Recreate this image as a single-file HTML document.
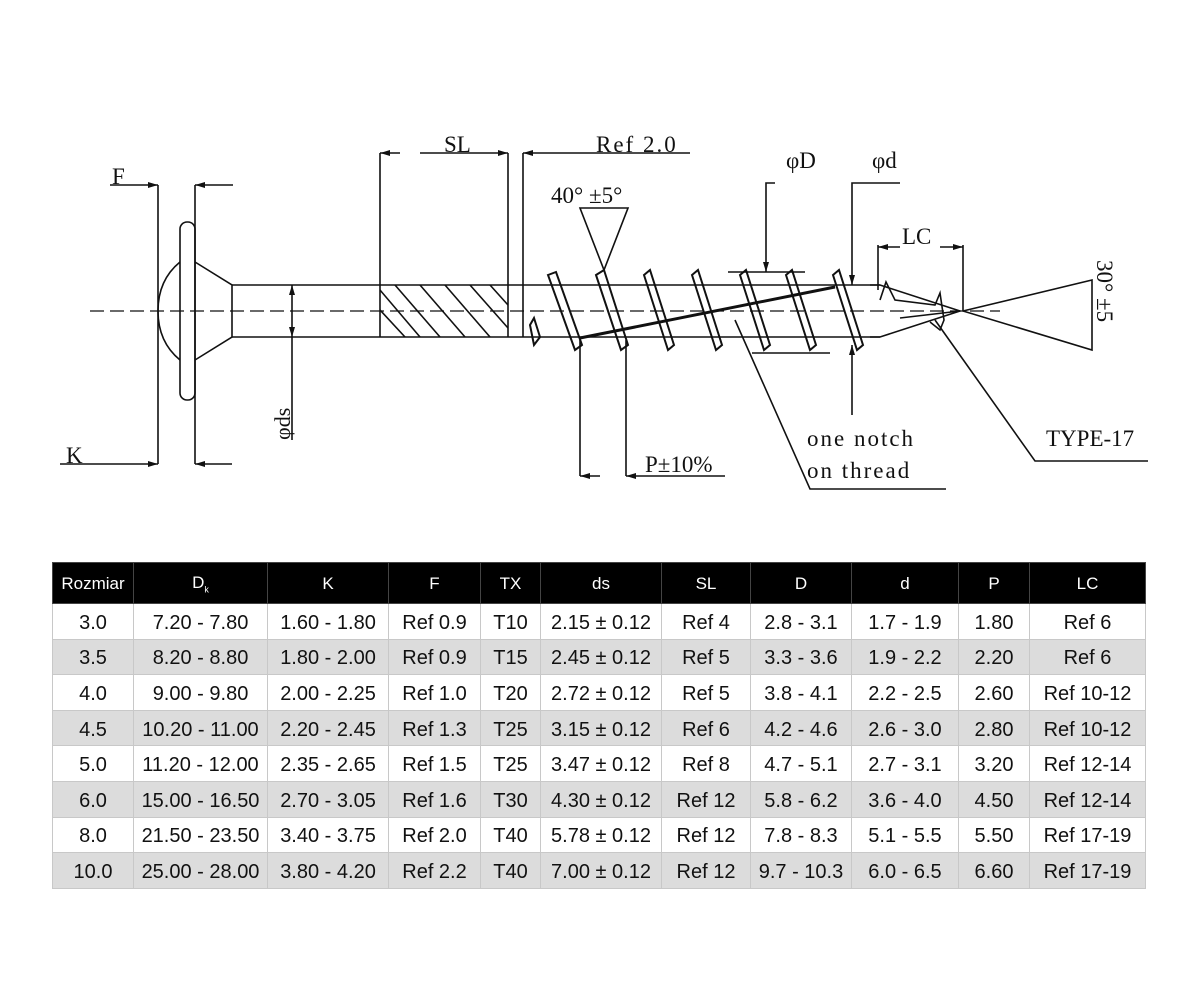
<!DOCTYPE html>
<html><head><meta charset="utf-8"><style>
body{margin:0;width:1196px;height:1005px;background:#fff;overflow:hidden;position:relative;font-family:"Liberation Sans",sans-serif}
svg{position:absolute;left:0;top:0}
table{position:absolute;left:52px;top:562px;width:1093px;table-layout:fixed;border-collapse:collapse;font-family:"Liberation Sans",sans-serif}
td,th{text-align:center;padding:0;border:1px solid #c8c8c8;font-size:20px;color:#111;box-sizing:border-box;white-space:nowrap}
th{background:#000;color:#fff;font-weight:normal;font-size:17px;height:41px;border-color:#444;padding-top:2px}
td{height:35.6px;padding-top:4px}
tr:nth-child(odd) td{background:#dcdcdc}
</style></head><body>
<svg width="1196" height="540" viewBox="0 0 1196 540" fill="none" stroke="#111" stroke-width="1.6" font-family="Liberation Serif, serif">
<defs><marker id="a" viewBox="0 0 10 6" refX="10" refY="3" markerWidth="12" markerHeight="6" orient="auto" markerUnits="userSpaceOnUse"><path d="M0 0 L10 3 L0 6 Z" fill="#111" stroke="none"/></marker></defs>
<line x1="110" y1="185" x2="158" y2="185" marker-end="url(#a)"/>
<line x1="233" y1="185" x2="195" y2="185" marker-end="url(#a)"/>
<line x1="60" y1="464" x2="158" y2="464" marker-end="url(#a)"/>
<line x1="232" y1="464" x2="195" y2="464" marker-end="url(#a)"/>
<line x1="158" y1="185" x2="158" y2="464"/>
<line x1="195" y1="185" x2="195" y2="464"/>
<rect x="180" y="222" width="15" height="178" rx="7"/>
<path d="M180 262 Q158 280 158 311 Q158 342 180 360"/>
<path d="M195 262 L232 285 L232 337 L195 360"/>
<line x1="90" y1="311" x2="1000" y2="311" stroke-dasharray="14 6" stroke-width="1.2"/>
<line x1="232" y1="285" x2="880" y2="285"/>
<line x1="232" y1="337" x2="880" y2="337"/>
<line x1="380" y1="153" x2="380" y2="337"/>
<line x1="508" y1="153" x2="508" y2="337"/>
<line x1="523" y1="153" x2="523" y2="337"/>
<g stroke-width="1.6">
<line x1="380" y1="290" x2="420" y2="337"/><line x1="380" y1="310" x2="405" y2="337"/>
<line x1="395" y1="285" x2="440" y2="337"/><line x1="420" y1="285" x2="465" y2="337"/>
<line x1="445" y1="285" x2="490" y2="337"/><line x1="470" y1="285" x2="508" y2="328"/>
<line x1="490" y1="285" x2="508" y2="305"/>
</g>
<line x1="400" y1="153" x2="380" y2="153" marker-end="url(#a)"/>
<line x1="420" y1="153" x2="508" y2="153" marker-end="url(#a)"/>
<line x1="690" y1="153" x2="523" y2="153" marker-end="url(#a)"/>
<line x1="292" y1="311" x2="292" y2="285" marker-end="url(#a)"/>
<line x1="292" y1="311" x2="292" y2="337" marker-end="url(#a)"/>
<line x1="292" y1="337" x2="292" y2="440"/>
<text x="0" y="0" transform="translate(290,440) rotate(-90)" font-size="22" fill="#111" stroke="none">φds</text>
<g stroke-width="2">
<path d="M548 275 L556 272 L582 345 L575 350 Z"/>
<path d="M596 275 L604 270 L628 345 L621 350 Z"/>
<path d="M644 275 L650 270 L674 345 L668 350 Z"/>
<path d="M692 275 L698 270 L722 345 L716 350 Z"/>
<path d="M740 275 L746 270 L770 345 L764 350 Z"/>
<path d="M786 275 L792 270 L816 345 L810 350 Z"/>
<path d="M833 275 L839 270 L863 345 L857 350 Z"/>
<path d="M530 325 L534 318 L540 337 L534 345 Z"/>
<line x1="580" y1="338" x2="835" y2="287" stroke-width="3"/>
<line x1="590" y1="336" x2="835" y2="287"/>
</g>
<path d="M870 285 L880 285 L960 311 L880 337 L870 337"/>
<path d="M880 300 L886 282 L895 300 L935 305 L940 293 L944 320 L940 330 L930 322"/>
<line x1="900" y1="318" x2="960" y2="311"/>
<path d="M580 208 L628 208 L604 270 Z"/>
<path d="M775 183 L766 183 L766 272" marker-end="url(#a)"/>
<line x1="728" y1="272" x2="805" y2="272"/>
<line x1="752" y1="353" x2="830" y2="353"/>
<path d="M900 183 L852 183 L852 285" marker-end="url(#a)"/>
<line x1="852" y1="415" x2="852" y2="345" marker-end="url(#a)"/>
<line x1="878" y1="245" x2="878" y2="290"/>
<line x1="963" y1="245" x2="963" y2="311"/>
<line x1="900" y1="247" x2="878" y2="247" marker-end="url(#a)"/>
<line x1="940" y1="247" x2="963" y2="247" marker-end="url(#a)"/>
<path d="M963 311 L1092 280 L1092 350 Z"/>
<path d="M1148 461 L1035 461 L935 320"/>
<path d="M946 489 L810 489 L735 320"/>
<line x1="580" y1="340" x2="580" y2="476"/>
<line x1="626" y1="340" x2="626" y2="476"/>
<line x1="600" y1="476" x2="580" y2="476" marker-end="url(#a)"/>
<line x1="725" y1="476" x2="626" y2="476" marker-end="url(#a)"/>
<g fill="#111" stroke="none" font-size="23">
<text x="112" y="184">F</text>
<text x="66" y="463">K</text>
<text x="444" y="152">SL</text>
<text x="596" y="152" letter-spacing="2">Ref 2.0</text>
<text x="551" y="203">40°  ±5°</text>
<text x="786" y="168">φD</text>
<text x="872" y="168">φd</text>
<text x="902" y="244">LC</text>
<text x="807" y="446" letter-spacing="2">one notch</text>
<text x="807" y="478" letter-spacing="2">on thread</text>
<text x="645" y="472">P±10%</text>
<text x="1046" y="446">TYPE-17</text>
<text transform="translate(1097,260) rotate(90)">30°  ±5</text>
</g>
</svg>
<table>
<colgroup><col style="width:81px"><col style="width:134px"><col style="width:121px"><col style="width:92px"><col style="width:60px"><col style="width:121px"><col style="width:89px"><col style="width:101px"><col style="width:107px"><col style="width:71px"><col style="width:116px"></colgroup>
<tr><th>Rozmiar</th><th>D<sub style="font-size:9px">k</sub></th><th>K</th><th>F</th><th>TX</th><th>ds</th><th>SL</th><th>D</th><th>d</th><th>P</th><th>LC</th></tr>
<tr><td>3.0</td><td>7.20 - 7.80</td><td>1.60 - 1.80</td><td>Ref 0.9</td><td>T10</td><td>2.15 ± 0.12</td><td>Ref 4</td><td>2.8 - 3.1</td><td>1.7 - 1.9</td><td>1.80</td><td>Ref 6</td></tr>
<tr><td>3.5</td><td>8.20 - 8.80</td><td>1.80 - 2.00</td><td>Ref 0.9</td><td>T15</td><td>2.45 ± 0.12</td><td>Ref 5</td><td>3.3 - 3.6</td><td>1.9 - 2.2</td><td>2.20</td><td>Ref 6</td></tr>
<tr><td>4.0</td><td>9.00 - 9.80</td><td>2.00 - 2.25</td><td>Ref 1.0</td><td>T20</td><td>2.72 ± 0.12</td><td>Ref 5</td><td>3.8 - 4.1</td><td>2.2 - 2.5</td><td>2.60</td><td>Ref 10-12</td></tr>
<tr><td>4.5</td><td>10.20 - 11.00</td><td>2.20 - 2.45</td><td>Ref 1.3</td><td>T25</td><td>3.15 ± 0.12</td><td>Ref 6</td><td>4.2 - 4.6</td><td>2.6 - 3.0</td><td>2.80</td><td>Ref 10-12</td></tr>
<tr><td>5.0</td><td>11.20 - 12.00</td><td>2.35 - 2.65</td><td>Ref 1.5</td><td>T25</td><td>3.47 ± 0.12</td><td>Ref 8</td><td>4.7 - 5.1</td><td>2.7 - 3.1</td><td>3.20</td><td>Ref 12-14</td></tr>
<tr><td>6.0</td><td>15.00 - 16.50</td><td>2.70 - 3.05</td><td>Ref 1.6</td><td>T30</td><td>4.30 ± 0.12</td><td>Ref 12</td><td>5.8 - 6.2</td><td>3.6 - 4.0</td><td>4.50</td><td>Ref 12-14</td></tr>
<tr><td>8.0</td><td>21.50 - 23.50</td><td>3.40 - 3.75</td><td>Ref 2.0</td><td>T40</td><td>5.78 ± 0.12</td><td>Ref 12</td><td>7.8 - 8.3</td><td>5.1 - 5.5</td><td>5.50</td><td>Ref 17-19</td></tr>
<tr><td>10.0</td><td>25.00 - 28.00</td><td>3.80 - 4.20</td><td>Ref 2.2</td><td>T40</td><td>7.00 ± 0.12</td><td>Ref 12</td><td>9.7 - 10.3</td><td>6.0 - 6.5</td><td>6.60</td><td>Ref 17-19</td></tr>
</table>
</body></html>
